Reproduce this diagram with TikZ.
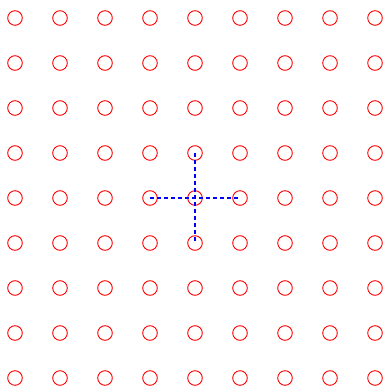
\documentclass[tikz,border=0pt]{standalone}
\definecolor{linkblue}{RGB}{0,0,255}
\definecolor{dotred}{RGB}{255,0,0}
\begin{document}
\begin{tikzpicture}[x=1pt,y=-1pt,
  dot/.style={circle,draw=dotred,line width=0.9pt,minimum size=14.6pt,inner sep=0pt},
  link/.style={color=linkblue,line width=1.1pt,dash pattern=on 4pt off 3pt}]
\useasboundingbox (0,0) rectangle (382,387);
\foreach \i in {0,...,8}{
  \foreach \j in {0,...,8}{
    \node[dot] (c-\i-\j) at (15+45*\i,18+45*\j) {};
  }
}
\draw[link] (c-3-4.center) -- (c-5-4.center);
\draw[link] (c-4-3.center) -- (c-4-5.center);
\end{tikzpicture}
\end{document}
